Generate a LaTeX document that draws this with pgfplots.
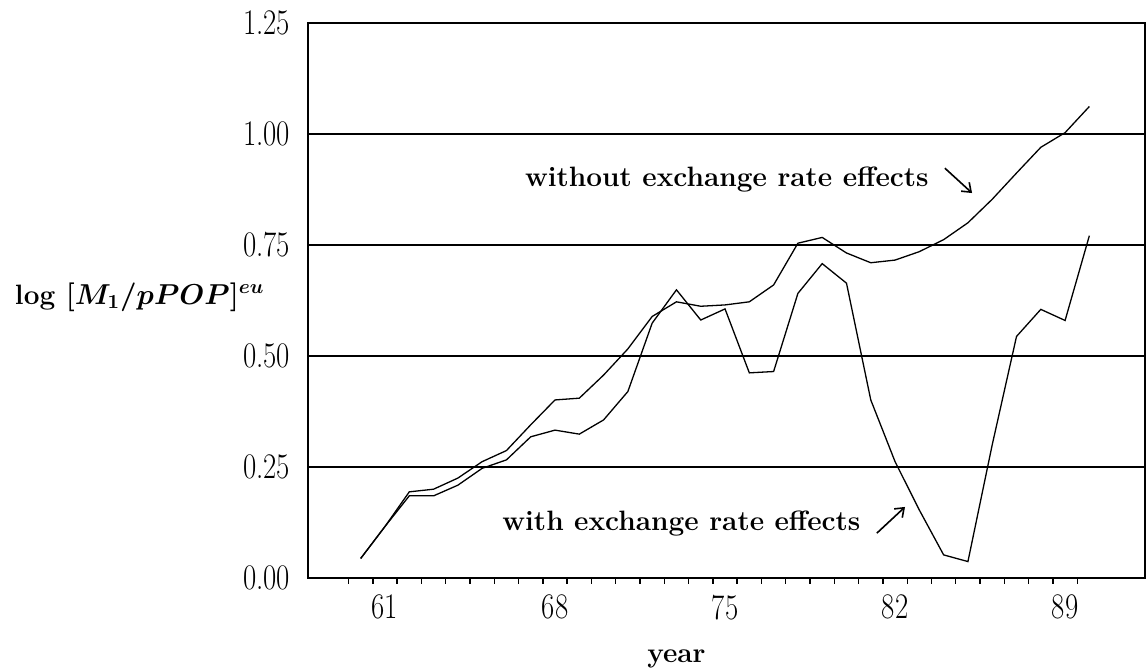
\documentclass[border=0pt]{standalone}
\usepackage{graphicx}
\usepackage{pgfplots}
\pgfplotsset{compat=1.18}
\usetikzlibrary{arrows.meta}
\DeclareRobustCommand\sx[1]{\scalebox{0.8}[1]{#1}}
\DeclareRobustCommand\ylab{log {\boldmath$[M_1/pPOP]^{eu}$}}
\begin{document}
\begin{tikzpicture}
\begin{axis}[
  at={(0,0)}, anchor=south west,
  width=418.5pt, height=277.5pt, scale only axis,
  xmin=57.83, xmax=92.29, ymin=0, ymax=1.25,
  xtick={61,68,75,82,89},
  xticklabels={\sx{61},\sx{68},\sx{75},\sx{82},\sx{89}},
  minor xtick={59.5,60.5,...,89.5},
  ytick={0,0.25,0.5,0.75,1,1.25},
  yticklabels={\sx{0.00},\sx{0.25},\sx{0.50},\sx{0.75},\sx{1.00},\sx{1.25}},
  major tick length=0pt,
  minor tick length=3pt,
  tick align=outside,
  xtick pos=lower, ytick pos=left,
  tick style={black, line width=0.7pt},
  tick label style={font=\fontsize{18}{18}\selectfont},
  xticklabel style={yshift=-5pt},
  yticklabel style={xshift=-5.5pt},
  ymajorgrids, major grid style={black, line width=0.75pt},
  axis line style={line width=0.9pt},
]
\addplot[black, line width=0.65pt, mark=none] coordinates {
(60,0.044) (61,0.116) (62,0.194) (63,0.200) (64,0.225) (65,0.262) (66,0.287)
(67,0.345) (68,0.401) (69,0.405) (70,0.457) (71,0.516) (72,0.589) (73,0.622)
(74,0.612) (75,0.615) (76,0.622) (77,0.660) (78,0.754) (79,0.767) (80,0.732)
(81,0.710) (82,0.716) (83,0.735) (84,0.762) (85,0.800) (86,0.853) (87,0.912)
(88,0.970) (89,1.003) (90,1.062)
};
\addplot[black, line width=0.65pt, mark=none] coordinates {
(60,0.044) (61,0.116) (62,0.185) (63,0.185) (64,0.209) (65,0.247) (66,0.266)
(67,0.318) (68,0.333) (69,0.324) (70,0.356) (71,0.420) (72,0.574) (73,0.649)
(74,0.581) (75,0.606) (76,0.462) (77,0.465) (78,0.641) (79,0.708) (80,0.664)
(81,0.401) (82,0.262) (83,0.153) (84,0.052) (85,0.037) (86,0.300) (87,0.544)
(88,0.605) (89,0.580) (90,0.771)
};
\coordinate (t1) at (axis cs:83.40,0.881);
\coordinate (a1s) at (axis cs:84.05,0.923);
\coordinate (a1e) at (axis cs:85.17,0.867);
\coordinate (t2) at (axis cs:65.82,0.108);
\coordinate (a2s) at (axis cs:81.25,0.101);
\coordinate (a2e) at (axis cs:82.41,0.160);
\coordinate (yl) at (axis cs:57.83,0.633);
\coordinate (xl) at (axis cs:73.0,0);
\end{axis}
\node[anchor=base east, inner sep=0pt, font=\fontsize{14}{16}\selectfont\bfseries] at (t1) {without exchange rate effects};
\draw[-{Straight Barb[length=4pt,width=6pt,line width=0.8pt]}, line width=0.8pt] (a1s) -- (a1e);
\node[anchor=base west, inner sep=0pt, font=\fontsize{14}{16}\selectfont\bfseries] at (t2) {with exchange rate effects};
\draw[-{Straight Barb[length=4pt,width=6pt,line width=0.8pt]}, line width=0.8pt] (a2s) -- (a2e);
\node[anchor=east, inner sep=0pt, xshift=-21.5pt, font=\fontsize{14}{16}\selectfont\bfseries] at (yl) {\ylab};
\node[anchor=base, inner sep=0pt, yshift=-42.5pt, font=\fontsize{14}{16}\selectfont\bfseries] at (xl) {year};
\pgfresetboundingbox
\path[use as bounding box] (-154pt,-47pt) rectangle (419pt,289pt);
\end{tikzpicture}
\end{document}
